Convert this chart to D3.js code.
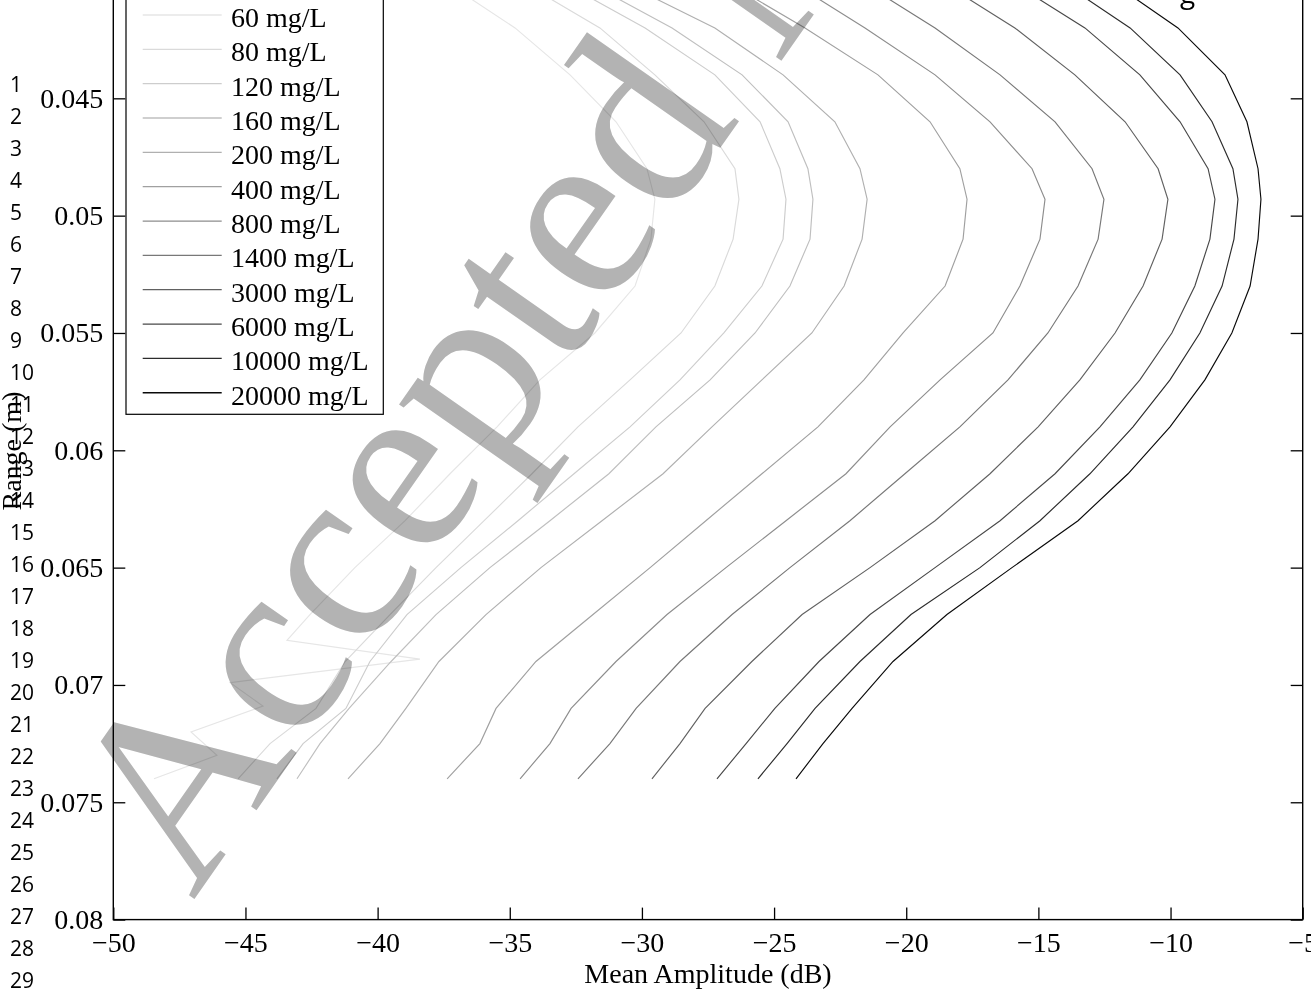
<!DOCTYPE html>
<html>
<head>
<meta charset="utf-8">
<script src="https://cdn.jsdelivr.net/npm/d3@7"></script>
<style>
  html, body { margin: 0; padding: 0; background: #fff; }
  svg { display: block; }
</style>
</head>
<body>
<svg id="chart" width="1311" height="994"></svg>
<script>
// ---------------- data ----------------
const concentrations = ["60 mg/L", "80 mg/L", "120 mg/L", "160 mg/L", "200 mg/L", "400 mg/L",
  "800 mg/L", "1400 mg/L", "3000 mg/L", "6000 mg/L", "10000 mg/L", "20000 mg/L"];

const ranges = [0.040, 0.042, 0.044, 0.046, 0.048, 0.0493, 0.051, 0.053, 0.055, 0.057, 0.059,
  0.061, 0.063, 0.065, 0.067, 0.069, 0.071, 0.0725, 0.074];

const ranges60 = [0.040, 0.042, 0.044, 0.046, 0.048, 0.0493, 0.051, 0.053, 0.055, 0.057, 0.059,
  0.061, 0.063, 0.065, 0.067, 0.0681, 0.0689, 0.0699, 0.0709, 0.0720, 0.0730, 0.074];
const amp60 = [-37.49, -34.80, -32.72, -30.98, -29.81, -29.51, -29.66, -30.26, -31.78, -33.86, -35.48,
  -37.26, -38.96, -40.86, -42.56, -43.43, -38.40, -45.58, -44.34, -47.06, -46.08, -48.46];

const amp80 = [-34.61, -31.59, -29.51, -27.65, -26.48, -26.33, -26.55, -27.24, -28.52, -30.45, -32.42,
  -34.16, -35.97, -37.79, -39.53, -41.23, -42.33, -44.07, -45.28];
const amp120 = [-33.10, -29.88, -27.24, -25.53, -24.78, -24.55, -24.66, -25.46, -26.90, -28.56, -30.45,
  -32.57, -34.69, -36.85, -38.89, -40.29, -41.20, -42.82, -43.81];
const amp160 = [-32.15, -28.86, -26.21, -24.47, -23.72, -23.53, -23.64, -24.40, -25.72, -27.42, -29.47,
  -31.25, -33.48, -35.75, -37.79, -39.49, -41.08, -42.18, -43.05];
const amp200 = [-30.83, -27.24, -24.66, -22.70, -21.75, -21.48, -21.67, -22.35, -23.57, -25.46, -27.35,
  -29.20, -31.51, -33.82, -35.90, -37.68, -38.93, -39.91, -41.12];
const amp400 = [-26.86, -23.83, -21.07, -19.10, -17.97, -17.70, -17.85, -18.53, -20.12, -21.60, -23.34,
  -25.46, -27.58, -29.69, -31.85, -34.01, -35.52, -36.13, -37.37];
const amp800 = [-24.40, -21.56, -18.91, -16.83, -15.24, -14.75, -14.94, -15.70, -16.72, -18.72, -20.61,
  -22.28, -24.55, -26.82, -29.05, -30.98, -32.68, -33.48, -34.61];
const amp1400 = [-21.75, -18.91, -16.45, -14.37, -12.97, -12.52, -12.74, -13.50, -14.64, -16.15, -17.97,
  -20.05, -22.13, -24.40, -26.59, -28.56, -30.22, -31.21, -32.42];
const amp3000 = [-18.72, -15.89, -13.62, -11.72, -10.47, -10.10, -10.32, -11.04, -12.10, -13.43, -15.01,
  -16.83, -18.91, -21.37, -23.94, -25.84, -27.61, -28.56, -29.62];
const amp6000 = [-16.07, -13.24, -11.16, -9.64, -8.58, -8.32, -8.51, -9.08, -9.95, -11.16, -12.67,
  -14.37, -16.45, -18.91, -21.37, -23.30, -24.97, -26.06, -27.16];
const amp10000 = [-14.18, -11.53, -9.64, -8.43, -7.64, -7.45, -7.60, -8.05, -8.89, -10.02, -11.42,
  -13.05, -14.94, -17.21, -19.82, -21.75, -23.45, -24.51, -25.61];
const amp20000 = [-12.29, -9.72, -7.94, -7.11, -6.69, -6.58, -6.69, -6.99, -7.68, -8.70, -10.02,
  -11.61, -13.50, -16.00, -18.46, -20.50, -22.05, -23.15, -24.17];

const xTicks = [-50, -45, -40, -35, -30, -25, -20, -15, -10, -5];
const yTicks = [0.04, 0.045, 0.05, 0.055, 0.06, 0.065, 0.07, 0.075, 0.08];
const xLabel = "Mean Amplitude (dB)";
const yLabel = "Range (m)";
const watermark = "Accepted Manuscript";
const lineNumbers = d3.range(1, 30);

const lineColors = ["#e6e6e6", "#dadada", "#cdcdcd", "#bfbfbf", "#b0b0b0", "#a0a0a0",
  "#8d8d8d", "#787878", "#616161", "#484848", "#2c2c2c", "#0a0a0a"];

// ---------------- build series ----------------
const ampSeries = [amp60, amp80, amp120, amp160, amp200, amp400, amp800, amp1400, amp3000, amp6000, amp10000, amp20000];
const series = concentrations.map((name, i) => {
  const rr = i === 0 ? ranges60 : ranges;
  return { name, color: lineColors[i], values: ampSeries[i].map((a, j) => ({ amp: a, range: rr[j] })) };
});

// ---------------- layout ----------------
const svg = d3.select("#chart");
const serif = "'Liberation Serif', 'Times New Roman', serif";
const x = d3.scaleLinear().domain([-50, -5]).range([113.3, 1302.7]);
const y = d3.scaleLinear().domain([0.04, 0.08]).range([-19, 919.6]);
const [x0, x1] = x.range();
const [y0, y1] = y.range();

// watermark (behind)
svg.append("text")
  .attr("transform", "translate(193,901) rotate(-55)")
  .attr("font-family", serif)
  .attr("font-size", 253)
  .attr("fill", "#b3b3b3")
  .text(watermark);

// line numbers
svg.append("g").selectAll("text").data(lineNumbers).join("text")
  .attr("x", 10)
  .attr("y", d => 92 + (d - 1) * 32)
  .attr("font-family", "'Open Sans', sans-serif")
  .attr("font-size", 21)
  .attr("fill", "#000")
  .text(d => d);

// stray text fragment at top right of the page crop
svg.append("text")
  .attr("x", 1180).attr("y", 3)
  .attr("font-family", "'Open Sans', sans-serif")
  .attr("font-size", 28)
  .text("g");

// clip
svg.append("defs").append("clipPath").attr("id", "plotclip")
  .append("rect").attr("x", x0).attr("y", y0).attr("width", x1 - x0).attr("height", y1 - y0);

// curves
const line = d3.line().x(d => x(d.amp)).y(d => y(d.range));
svg.append("g")
  .attr("clip-path", "url(#plotclip)")
  .style("mix-blend-mode", "multiply")
  .selectAll("path").data(series).join("path")
  .attr("d", d => line(d.values))
  .attr("fill", "none")
  .attr("stroke", d => d.color)
  .attr("stroke-width", 1.15);

// axes
const tickLen = 12;
const fmtY = d3.format("~g");
const gx = svg.append("g").attr("transform", `translate(0,${y1})`)
  .call(d3.axisBottom(x).tickValues(xTicks).tickSizeInner(-tickLen).tickSizeOuter(0).tickPadding(13));
const gxt = svg.append("g").attr("transform", `translate(0,${y0})`)
  .call(d3.axisTop(x).tickValues(xTicks).tickSizeInner(-tickLen).tickSizeOuter(0).tickFormat(""));
const gy = svg.append("g").attr("transform", `translate(${x0},0)`)
  .call(d3.axisLeft(y).tickValues(yTicks).tickSizeInner(-tickLen).tickSizeOuter(0).tickPadding(10).tickFormat(fmtY));
const gyr = svg.append("g").attr("transform", `translate(${x1},0)`)
  .call(d3.axisRight(y).tickValues(yTicks).tickSizeInner(-tickLen).tickSizeOuter(0).tickFormat(""));
[gx, gxt, gy, gyr].forEach(g => {
  g.select(".domain").remove();
  g.selectAll(".tick line").attr("stroke", "#000").attr("stroke-width", 1.3);
  g.selectAll("text").attr("font-family", serif).attr("font-size", 28).attr("fill", "#000");
});

svg.append("rect")
  .attr("x", x0).attr("y", y0).attr("width", x1 - x0).attr("height", y1 - y0)
  .attr("fill", "none").attr("stroke", "#000").attr("stroke-width", 1.4);

// axis labels
svg.append("text")
  .attr("x", (x0 + x1) / 2 + 0).attr("y", 983)
  .attr("text-anchor", "middle")
  .attr("font-family", serif).attr("font-size", 28)
  .text(xLabel);
svg.append("text")
  .attr("transform", "translate(20.5,451) rotate(-90)")
  .attr("text-anchor", "middle")
  .attr("font-family", serif).attr("font-size", 28)
  .text(yLabel);

// legend
const legX = 126, legRight = 383.3, legBottom = 414.3, legTop = -10;
const rowStep = 34.34, rowFirst = 15;
const leg = svg.append("g");
leg.append("rect")
  .attr("x", legX).attr("y", legTop).attr("width", legRight - legX).attr("height", legBottom - legTop)
  .attr("fill", "#fff").attr("stroke", "#000").attr("stroke-width", 1.2);
const rows = leg.selectAll("g.row").data(series).join("g").attr("class", "row")
  .attr("transform", (d, i) => `translate(0,${rowFirst + i * rowStep})`);
rows.append("line")
  .attr("x1", 142.7).attr("x2", 221.7).attr("y1", 0).attr("y2", 0)
  .attr("stroke", d => d.color).attr("stroke-width", 1.3);
rows.append("text")
  .attr("x", 231).attr("y", 12)
  .attr("font-family", serif).attr("font-size", 28)
  .text(d => d.name);
</script>
</body>
</html>
